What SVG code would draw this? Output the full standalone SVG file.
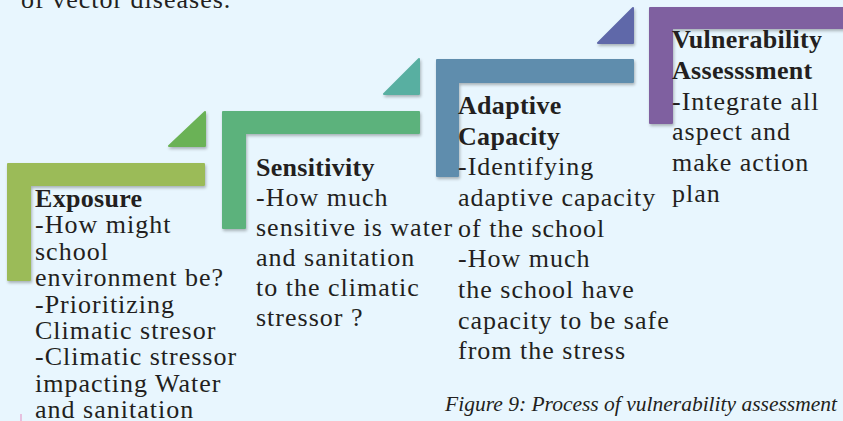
<svg xmlns="http://www.w3.org/2000/svg" width="843" height="421" viewBox="0 0 843 421">
<defs>
<filter id="sh" x="-10%" y="-10%" width="130%" height="130%">
<feDropShadow dx="1" dy="2" stdDeviation="1.5" flood-color="#000" flood-opacity="0.28"/>
</filter>
<style>
.t{font-family:"Liberation Serif","Times New Roman",serif;font-size:26px;letter-spacing:1px;fill:#231f20}
.b{font-weight:bold;letter-spacing:0.3px}
.cap{font-family:"Liberation Serif","Times New Roman",serif;font-size:21.5px;font-style:italic;fill:#231f20}
.shape{filter:url(#sh);stroke-linejoin:round;stroke-width:2}
</style>
</defs>
<rect width="843" height="421" fill="#e8f6fe"/>
<text class="t" x="21" y="8">of vector diseases.</text>

<g id="connectors">
<polygon class="shape" points="169,146 205,112 205,146" fill="#6bb256" stroke="#6bb256"/>
<polygon class="shape" points="384,94 419,59 419,94" fill="#59afa1" stroke="#59afa1"/>
<polygon class="shape" points="598,43 633,8 633,43" fill="#5e68a9" stroke="#5e68a9"/>
</g>

<g id="exposure">
<path class="shape" d="M8,164 H204 V185 H30 V280 H8 Z" fill="#9bbb59" stroke="#9bbb59"/>
<text class="t">
<tspan class="b" x="35" y="207">Exposure</tspan>
<tspan x="35" y="233.4">-How might</tspan>
<tspan x="35" y="259.8">school</tspan>
<tspan x="35" y="286.2">environment be?</tspan>
<tspan x="35" y="312.6">-Prioritizing</tspan>
<tspan x="35" y="339">Climatic stresor</tspan>
<tspan x="35" y="365.4">-Climatic stressor</tspan>
<tspan x="35" y="391.8">impacting Water</tspan>
<tspan x="35" y="418.2">and sanitation</tspan>
</text>
</g>

<g id="sensitivity">
<path class="shape" d="M223,112 H419 V133 H245 V228 H223 Z" fill="#5bb27b" stroke="#5bb27b"/>
<text class="t">
<tspan class="b" x="256" y="176">Sensitivity</tspan>
<tspan x="256" y="206">-How much</tspan>
<tspan x="256" y="236">sensitive is water</tspan>
<tspan x="256" y="266">and sanitation</tspan>
<tspan x="256" y="296">to the climatic</tspan>
<tspan x="256" y="326">stressor ?</tspan>
</text>
</g>

<g id="adaptive">
<path class="shape" d="M437,60 H633 V82 H458 V176 H437 Z" fill="#5f8dad" stroke="#5f8dad"/>
<text class="t">
<tspan class="b" x="458" y="114">Adaptive</tspan>
<tspan class="b" x="458" y="144.6">Capacity</tspan>
<tspan x="458" y="175.3">-Identifying</tspan>
<tspan x="458" y="206">adaptive capacity</tspan>
<tspan x="458" y="236.6">of the school</tspan>
<tspan x="458" y="267.3">-How much</tspan>
<tspan x="458" y="298">the school have</tspan>
<tspan x="458" y="328.6">capacity to be safe</tspan>
<tspan x="458" y="359.3">from the stress</tspan>
</text>
</g>

<g id="vulnerability">
<path class="shape" d="M650,8 H850 V28 H672 V123 H650 Z" fill="#7f60a0" stroke="#7f60a0"/>
<text class="t">
<tspan class="b" x="672" y="48">Vulnerability</tspan>
<tspan class="b" x="672" y="78.8">Assesssment</tspan>
<tspan x="672" y="109.6">-Integrate all</tspan>
<tspan x="672" y="140.4">aspect and</tspan>
<tspan x="672" y="171.2">make action</tspan>
<tspan x="672" y="202">plan</tspan>
</text>
</g>

<line x1="21" y1="414" x2="21" y2="421" stroke="#e48bc0" stroke-width="1"/>
<text class="cap" x="837" y="411" text-anchor="end">Figure 9: Process of vulnerability assessment</text>
</svg>
